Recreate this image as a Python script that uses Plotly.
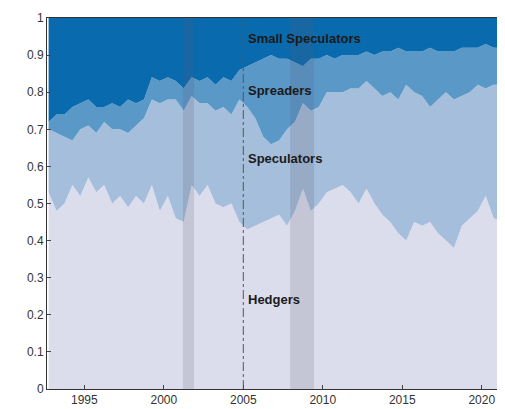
import plotly.graph_objects as go

years = [1992.75 + 0.5 * i for i in range(57)] + [2021.4]
years = [round(y, 2) for y in years]

# cumulative boundaries (share of open interest)
hedgers = [0.53, 0.48, 0.50, 0.55, 0.52, 0.57, 0.53, 0.55, 0.50, 0.52, 0.49, 0.52, 0.50, 0.55,
           0.48, 0.52, 0.46, 0.45, 0.55, 0.52, 0.55, 0.50, 0.49, 0.50, 0.45, 0.43, 0.44, 0.45,
           0.46, 0.47, 0.44, 0.48, 0.54, 0.48, 0.50, 0.53, 0.54, 0.55, 0.53, 0.50, 0.54, 0.50,
           0.47, 0.45, 0.42, 0.40, 0.45, 0.44, 0.45, 0.42, 0.40, 0.38, 0.44, 0.46, 0.48, 0.52,
           0.46, 0.45]
plus_speculators = [0.70, 0.69, 0.68, 0.67, 0.70, 0.71, 0.69, 0.72, 0.70, 0.70, 0.69, 0.71, 0.73, 0.78,
                    0.77, 0.78, 0.78, 0.75, 0.79, 0.77, 0.77, 0.75, 0.76, 0.74, 0.78, 0.76, 0.73, 0.68,
                    0.66, 0.67, 0.70, 0.72, 0.77, 0.75, 0.76, 0.80, 0.80, 0.80, 0.81, 0.81, 0.83, 0.81,
                    0.79, 0.80, 0.78, 0.82, 0.80, 0.79, 0.76, 0.78, 0.80, 0.78, 0.79, 0.80, 0.82, 0.81,
                    0.82, 0.82]
plus_spreaders = [0.72, 0.74, 0.74, 0.76, 0.77, 0.78, 0.76, 0.76, 0.77, 0.76, 0.78, 0.77, 0.78, 0.84,
                  0.83, 0.84, 0.83, 0.81, 0.84, 0.83, 0.84, 0.82, 0.84, 0.83, 0.86, 0.87, 0.88, 0.89,
                  0.90, 0.89, 0.89, 0.88, 0.87, 0.89, 0.89, 0.90, 0.89, 0.90, 0.90, 0.90, 0.91, 0.90,
                  0.91, 0.91, 0.92, 0.91, 0.91, 0.91, 0.92, 0.91, 0.91, 0.91, 0.92, 0.92, 0.92, 0.93,
                  0.92, 0.92]
total = [1.0] * len(years)

y_ticks = [0, 0.1, 0.2, 0.3, 0.4, 0.5, 0.6, 0.7, 0.8, 0.9, 1]
y_labels = ["0", "0.1", "0.2", "0.3", "0.4", "0.5", "0.6", "0.7", "0.8", "0.9", "1"]
x_ticks = [1995, 2000, 2005, 2010, 2015, 2020]

recessions = [(2001.2, 2001.9), (2007.95, 2009.45)]
split_year = 2005.0

fig = go.Figure()
layers = [(hedgers, "#dcddec", "tozeroy"), (plus_speculators, "#a5bedb", "tonexty"),
          (plus_spreaders, "#5a98c8", "tonexty"), (total, "#0a6aae", "tonexty")]
for vals, col, fill in layers:
    fig.add_trace(go.Scatter(x=years, y=vals, mode="lines", line=dict(width=0),
                             fill=fill, fillcolor=col, hoverinfo="skip", showlegend=False))

for a, b in recessions:
    fig.add_vrect(x0=a, x1=b, fillcolor="rgba(90,90,110,0.18)", line_width=0, layer="above")
fig.add_vline(x=split_year, line=dict(color="#555555", width=1, dash="dashdot"))

labels = [("Small Speculators", 0.945), ("Spreaders", 0.805), ("Speculators", 0.62), ("Hedgers", 0.24)]
for txt, y in labels:
    fig.add_annotation(x=split_year + 0.2, y=y, text="<b>" + txt + "</b>", showarrow=False,
                       xanchor="left", font=dict(size=13, color="#1a1a1a", family="Liberation Sans"))

fig.update_layout(
    width=505, height=409, margin=dict(l=39, r=9, t=10, b=28, autoexpand=False),
    plot_bgcolor="white", paper_bgcolor="white",
    font=dict(family="Liberation Sans", size=12, color="#333333"),
    xaxis=dict(range=[1992.65, 2021.4], tickvals=x_ticks,
               ticks="inside", ticklen=4, showgrid=False, zeroline=False,
               showline=True, linecolor="#333333", mirror=True),
    yaxis=dict(range=[0, 1], tickvals=y_ticks, ticktext=y_labels, ticks="inside", ticklen=4,
               showgrid=False, zeroline=False, showline=True, linecolor="#333333", mirror=True),
)
fig.write_html("out.html")
